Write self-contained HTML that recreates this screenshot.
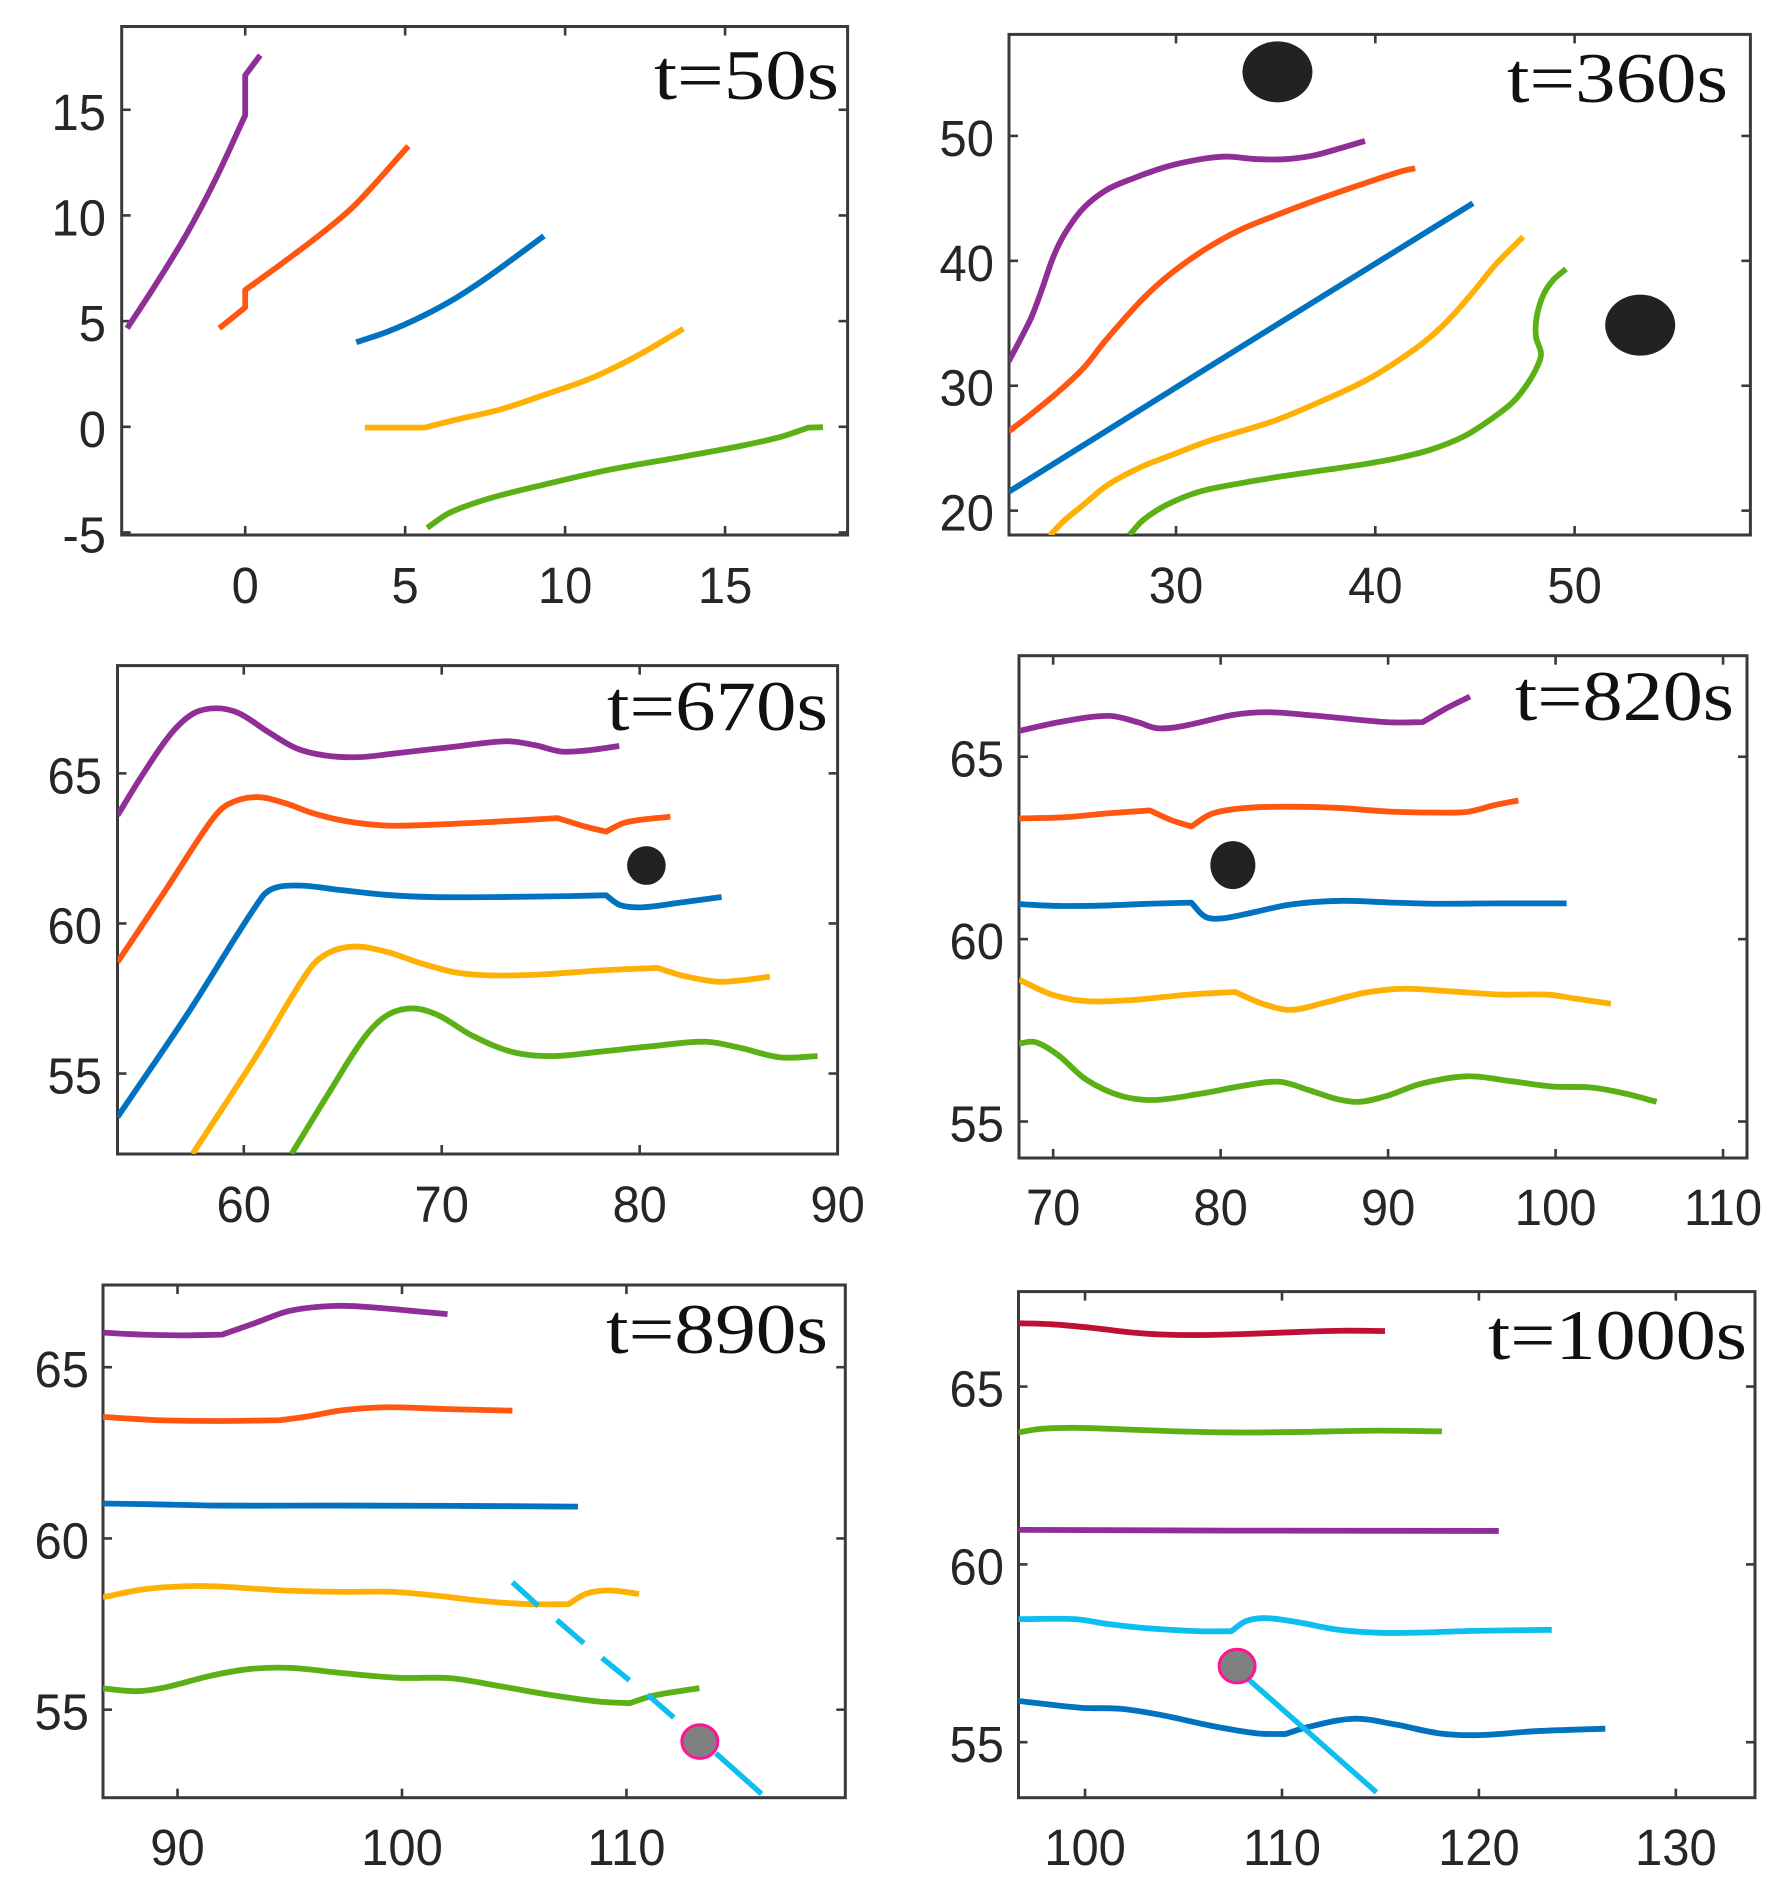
<!DOCTYPE html>
<html lang="en">
<head>
<meta charset="utf-8">
<title>Trajectories at six times</title>
<style>
html,body{margin:0;padding:0;background:#fff;}
svg{display:block;}
.tick-label{font-family:"Liberation Sans",sans-serif;font-size:51px;fill:#262626;}
.panel-title{font-family:"Liberation Serif",serif;font-size:71px;fill:#111;}
</style>
</head>
<body>
<svg id="chart" xmlns="http://www.w3.org/2000/svg" width="1785" height="1899" viewBox="0 0 1785 1899">
  <rect width="1785" height="1899" fill="#ffffff"/>
  <g id="p1"></g>
  <g id="p2"></g>
  <g id="p3"></g>
  <g id="p4"></g>
  <g id="p5"></g>
  <g id="p6"></g>
  <text class="panel-title" x="654" y="99" textLength="185" lengthAdjust="spacingAndGlyphs">t=50s</text>
  <text class="panel-title" x="1507" y="102" textLength="221" lengthAdjust="spacingAndGlyphs">t=360s</text>
  <text class="panel-title" x="607" y="730" textLength="221" lengthAdjust="spacingAndGlyphs">t=670s</text>
  <text class="panel-title" x="1515" y="720" textLength="219" lengthAdjust="spacingAndGlyphs">t=820s</text>
  <text class="panel-title" x="606" y="1353" textLength="222" lengthAdjust="spacingAndGlyphs">t=890s</text>
  <text class="panel-title" x="1488" y="1359" textLength="259" lengthAdjust="spacingAndGlyphs">t=1000s</text>
</svg>
<script>
// ---------- Panel t=50s ----------
const p1XTicks = [0, 5, 10, 15];
const p1YTicks = [-5, 0, 5, 10, 15];
const p1PurpleX = [-3.69, -2.81, -1.82, -0.94, 0, 0, 0.47];
const p1PurpleY = [4.66, 6.7, 9.15, 11.67, 14.74, 16.63, 17.58];
const p1OrangeX = [-0.81, 0, 0, 1.15, 2.39, 3.43, 5.1];
const p1OrangeY = [4.66, 5.65, 6.47, 7.73, 9.15, 10.49, 13.28];
const p1BlueX = [3.47, 4.45, 5.52, 6.58, 7.65, 9.34];
const p1BlueY = [4.0, 4.5, 5.22, 6.09, 7.16, 9.03];
const p1YellowX = [3.74, 5.6, 6.58, 8.0, 9.43, 10.85, 12.28, 13.7];
const p1YellowY = [-0.04, -0.04, 0.33, 0.83, 1.55, 2.32, 3.38, 4.64];
const p1GreenX = [5.69, 6.4, 7.65, 9.25, 11.39, 13.7, 15.48, 16.73, 17.6, 18.06];
const p1GreenY = [-4.78, -4.06, -3.38, -2.77, -2.03, -1.41, -0.91, -0.48, -0.04, -0.02];

// ---------- Panel t=360s ----------
const p2XTicks = [30, 40, 50];
const p2YTicks = [20, 30, 40, 50];
const p2PurpleX = [21.6, 22.26, 22.76, 23.26, 23.85, 24.43, 25.35, 26.52, 27.86, 29.53, 31.2, 32.54, 33.88, 35.39, 36.89, 38.23, 39.48];
const p2PurpleY = [31.93, 33.93, 35.54, 37.67, 40.34, 42.21, 44.21, 45.68, 46.61, 47.54, 48.13, 48.35, 48.16, 48.13, 48.43, 49.01, 49.6];
const p2OrangeX = [21.6, 22.68, 24.01, 25.35, 26.35, 27.36, 28.53, 29.87, 31.54, 33.21, 35.05, 37.06, 39.23, 41.24, 42.0];
const p2OrangeY = [26.33, 27.66, 29.4, 31.4, 33.4, 35.27, 37.27, 39.14, 41.0, 42.47, 43.67, 44.88, 46.08, 47.14, 47.42];
const p2BlueX = [21.6, 33.2, 44.9];
const p2BlueY = [21.5, 33.05, 44.61];
const p2YellowX = [23.66, 24.43, 25.35, 26.52, 28.19, 29.87, 31.54, 33.21, 35.05, 37.06, 39.4, 41.07, 42.58, 43.75, 44.92, 46.09, 47.42];
const p2YellowY = [18.0, 19.26, 20.46, 22.0, 23.45, 24.51, 25.53, 26.33, 27.26, 28.6, 30.32, 31.93, 33.66, 35.4, 37.53, 39.8, 41.93];
const p2GreenX = [27.66, 28.36, 29.53, 31.2, 33.21, 35.39, 37.73, 39.4, 41.07, 42.74, 44.41, 45.75, 46.92, 47.76, 48.26, 48.3, 48.06, 48.1, 48.43, 48.93, 49.57];
const p2GreenY = [18.05, 19.26, 20.46, 21.53, 22.19, 22.77, 23.31, 23.71, 24.19, 24.86, 25.92, 27.26, 28.72, 30.46, 32.06, 32.73, 33.93, 35.53, 37.27, 38.47, 39.35];
const p2ObstacleX = [35.09, 53.29];
const p2ObstacleY = [55.13, 34.85];

// ---------- Panel t=670s ----------
const p3XTicks = [60, 70, 80, 90];
const p3YTicks = [55, 60, 65];
const p3PurpleX = [53.62, 54.89, 56.32, 57.47, 58.62, 59.77, 61.21, 62.64, 64.08, 65.8, 67.82, 70.4, 73.28, 74.71, 76.0, 77.3, 78.97];
const p3PurpleY = [63.6, 64.96, 66.32, 67.0, 67.17, 67.0, 66.39, 65.84, 65.6, 65.54, 65.68, 65.87, 66.07, 65.94, 65.73, 65.76, 65.91];
const p3OrangeX = [53.62, 56.03, 58.33, 59.2, 60.63, 62.07, 63.51, 65.23, 67.24, 69.54, 72.99, 75.86, 77.3, 78.3, 79.31, 81.55];
const p3OrangeY = [58.71, 61.09, 63.4, 63.97, 64.21, 64.01, 63.67, 63.4, 63.26, 63.29, 63.4, 63.51, 63.22, 63.06, 63.37, 63.56];
const p3BlueX = [53.62, 57.18, 60.92, 61.64, 62.93, 64.94, 67.24, 69.54, 72.99, 76.44, 78.3, 79.02, 80.17, 81.9, 84.14];
const p3BlueY = [53.55, 57.01, 60.88, 61.2, 61.26, 61.11, 60.95, 60.88, 60.88, 60.91, 60.94, 60.61, 60.54, 60.68, 60.88];
const p3YellowX = [57.41, 60.63, 63.36, 64.37, 65.66, 67.24, 68.97, 70.69, 72.41, 75.0, 78.16, 80.89, 82.18, 83.91, 85.06, 86.58];
const p3YellowY = [52.32, 55.58, 58.51, 59.05, 59.23, 59.05, 58.67, 58.37, 58.27, 58.3, 58.44, 58.52, 58.26, 58.06, 58.1, 58.23];
const p3GreenX = [62.41, 64.37, 66.09, 67.24, 68.53, 69.83, 71.55, 73.56, 75.57, 77.87, 80.75, 83.33, 85.06, 87.07, 88.99];
const p3GreenY = [52.32, 54.43, 56.2, 56.94, 57.17, 56.94, 56.26, 55.72, 55.58, 55.72, 55.92, 56.06, 55.86, 55.54, 55.58];
const p3ObstacleX = [80.34];
const p3ObstacleY = [61.93];

// ---------- Panel t=820s ----------
const p4XTicks = [70, 80, 90, 100, 110];
const p4YTicks = [55, 60, 65];
const p4PurpleX = [67.96, 70.61, 73.33, 75.03, 76.21, 77.74, 80.8, 82.84, 85.55, 88.27, 90.31, 92.07, 93.53, 94.89];
const p4PurpleY = [65.71, 65.97, 66.12, 65.95, 65.78, 65.84, 66.15, 66.22, 66.13, 66.01, 65.94, 65.95, 66.34, 66.65];
const p4OrangeX = [67.96, 70.61, 73.33, 75.77, 77.06, 78.25, 79.44, 81.14, 83.51, 86.91, 89.97, 92.68, 94.72, 96.42, 97.78];
const p4OrangeY = [63.31, 63.34, 63.45, 63.53, 63.26, 63.09, 63.43, 63.58, 63.63, 63.6, 63.5, 63.47, 63.49, 63.68, 63.8];
const p4BlueX = [67.96, 70.27, 72.99, 75.7, 78.25, 79.1, 80.12, 81.82, 84.19, 87.25, 90.31, 93.02, 96.42, 100.66];
const p4BlueY = [60.96, 60.91, 60.92, 60.97, 61.0, 60.61, 60.57, 60.72, 60.95, 61.05, 61.0, 60.97, 60.98, 60.98];
const p4YellowX = [67.96, 69.93, 71.97, 74.69, 78.08, 80.87, 82.5, 84.19, 86.23, 88.61, 90.98, 93.7, 96.76, 99.47, 101.17, 103.31];
const p4YellowY = [58.89, 58.48, 58.3, 58.33, 58.48, 58.55, 58.23, 58.06, 58.26, 58.53, 58.64, 58.57, 58.48, 58.48, 58.37, 58.23];
const p4GreenX = [67.96, 68.91, 70.27, 71.97, 74.0, 76.04, 78.76, 81.48, 83.51, 85.21, 86.91, 88.27, 89.97, 92.0, 94.72, 97.44, 99.81, 102.19, 104.23, 106.03];
const p4GreenY = [57.14, 57.18, 56.83, 56.15, 55.71, 55.59, 55.76, 55.99, 56.09, 55.87, 55.62, 55.54, 55.71, 56.04, 56.24, 56.1, 55.96, 55.93, 55.76, 55.54];
const p4ObstacleX = [80.73];
const p4ObstacleY = [62.03];

// ---------- Panel t=890s ----------
const p5XTicks = [90, 100, 110];
const p5YTicks = [55, 60, 65];
const p5PurpleX = [86.68, 88.43, 90.2, 91.98, 93.5, 95.03, 97.06, 98.83, 100.36, 102.03];
const p5PurpleY = [66.01, 65.95, 65.93, 65.95, 66.3, 66.65, 66.79, 66.74, 66.65, 66.55];
const p5OrangeX = [86.68, 89.19, 91.73, 94.52, 95.79, 97.31, 99.34, 101.88, 104.92];
const p5OrangeY = [63.55, 63.45, 63.43, 63.45, 63.56, 63.74, 63.83, 63.78, 63.73];
const p5BlueX = [86.68, 88.68, 91.73, 97.31, 102.39, 107.84];
const p5BlueY = [61.02, 61.0, 60.96, 60.96, 60.95, 60.93];
const p5YellowX = [86.68, 88.43, 90.2, 91.73, 94.77, 97.31, 99.59, 101.37, 103.65, 105.69, 107.41, 108.22, 109.24, 110.56];
const p5YellowY = [58.28, 58.51, 58.6, 58.6, 58.48, 58.44, 58.44, 58.34, 58.17, 58.08, 58.08, 58.39, 58.48, 58.38];
const p5GreenX = [86.68, 88.17, 89.44, 91.47, 93.25, 95.03, 97.31, 99.85, 102.13, 104.42, 106.7, 108.73, 110.13, 111.27, 113.25];
const p5GreenY = [55.62, 55.54, 55.65, 55.99, 56.19, 56.22, 56.07, 55.93, 55.92, 55.68, 55.42, 55.24, 55.19, 55.42, 55.63];
const p5CyanStartX = [104.92, 106.9, 108.91, 110.94, 113.98];
const p5CyanStartY = [58.72, 57.62, 56.51, 55.44, 53.73];
const p5CyanEndX = [106.07, 108.1, 110.13, 112.11, 116.02];
const p5CyanEndY = [58.03, 56.94, 55.86, 54.77, 52.54];
const p5MarkerX = [113.27];
const p5MarkerY = [54.07];

// ---------- Panel t=1000s ----------
const p6XTicks = [100, 110, 120, 130];
const p6YTicks = [55, 60, 65];
const p6RedX = [96.62, 98.32, 100.35, 102.37, 104.1, 106.13, 108.73, 111.04, 113.06, 115.23];
const p6RedY = [66.78, 66.75, 66.65, 66.52, 66.46, 66.45, 66.49, 66.54, 66.57, 66.56];
const p6GreenX = [96.62, 97.75, 99.48, 101.79, 104.68, 107.57, 110.46, 114.8, 118.12];
const p6GreenY = [63.71, 63.81, 63.84, 63.8, 63.74, 63.71, 63.72, 63.76, 63.74];
const p6PurpleX = [96.62, 107.57, 121.01];
const p6PurpleY = [60.97, 60.95, 60.94];
const p6SkyX = [96.62, 99.48, 101.21, 103.24, 105.84, 107.43, 108.15, 109.16, 110.75, 112.77, 114.8, 116.82, 119.71, 123.7];
const p6SkyY = [58.46, 58.46, 58.32, 58.2, 58.12, 58.12, 58.4, 58.49, 58.38, 58.17, 58.08, 58.08, 58.13, 58.16];
const p6DeepBlueX = [96.62, 99.77, 101.79, 103.82, 106.42, 108.73, 110.17, 111.33, 113.64, 115.66, 117.98, 120.0, 122.89, 126.42];
const p6DeepBlueY = [56.16, 55.97, 55.94, 55.77, 55.46, 55.25, 55.23, 55.43, 55.66, 55.51, 55.25, 55.2, 55.31, 55.38];
const p6CyanStartX = [108.29];
const p6CyanStartY = [56.77];
const p6CyanEndX = [114.8];
const p6CyanEndY = [53.59];
const p6MarkerX = [107.72];
const p6MarkerY = [57.14];

const PURPLE = '#8E2E96', ORANGE = '#FF5712', BLUE = '#0072BF', YELLOW = '#FFB005',
      GREEN = '#5AB014', RED = '#BE1035', SKY = '#0DBEF0', CYAN = '#0DBEEE';

// The trailing list on a series names the point indexes that are sharp corners.
const panels = [
  { id: 'p1', box: [121.7, 26.5, 847.6, 535], xlim: [-3.86, 18.83], ylim: [-5.12, 18.94],
    xticks: p1XTicks, yticks: p1YTicks, xBase: 603, yRight: 106,
    series: [['purple', PURPLE, p1PurpleX, p1PurpleY, [4, 5]], ['orange', ORANGE, p1OrangeX, p1OrangeY, [1, 2]],
             ['blue', BLUE, p1BlueX, p1BlueY, []], ['yellow', YELLOW, p1YellowX, p1YellowY, [1]],
             ['green', GREEN, p1GreenX, p1GreenY, [8]]] },
  { id: 'p2', box: [1009, 34.4, 1750.4, 535], xlim: [21.62, 58.82], ylim: [18.05, 58.13],
    xticks: p2XTicks, yticks: p2YTicks, xBase: 603, yRight: 994,
    series: [['purple', PURPLE, p2PurpleX, p2PurpleY, []], ['orange', ORANGE, p2OrangeX, p2OrangeY, []],
             ['blue', BLUE, p2BlueX, p2BlueY, []], ['yellow', YELLOW, p2YellowX, p2YellowY, []],
             ['green', GREEN, p2GreenX, p2GreenY, []]],
    obstacles: [p2ObstacleX, p2ObstacleY], obstacleR: [35, 30.5] },
  { id: 'p3', box: [117.5, 665.6, 837.6, 1154], xlim: [53.62, 90], ylim: [52.32, 68.59],
    xticks: p3XTicks, yticks: p3YTicks, xBase: 1222, yRight: 102,
    series: [['purple', PURPLE, p3PurpleX, p3PurpleY, []], ['orange', ORANGE, p3OrangeX, p3OrangeY, [11, 13]],
             ['blue', BLUE, p3BlueX, p3BlueY, [10]], ['yellow', YELLOW, p3YellowX, p3YellowY, [11]],
             ['green', GREEN, p3GreenX, p3GreenY, []]],
    obstacles: [p3ObstacleX, p3ObstacleY], obstacleR: [19.3, 19.4] },
  { id: 'p4', box: [1019, 655.7, 1747, 1158], xlim: [67.96, 111.43], ylim: [54.0, 67.77],
    xticks: p4XTicks, yticks: p4YTicks, xBase: 1225, yRight: 1004,
    series: [['purple', PURPLE, p4PurpleX, p4PurpleY, [11]], ['orange', ORANGE, p4OrangeX, p4OrangeY, [3, 5]],
             ['blue', BLUE, p4BlueX, p4BlueY, [4]], ['yellow', YELLOW, p4YellowX, p4YellowY, [5]],
             ['green', GREEN, p4GreenX, p4GreenY, []]],
    obstacles: [p4ObstacleX, p4ObstacleY], obstacleR: [22.5, 24] },
  { id: 'p5', box: [103, 1285, 845.3, 1797.7], xlim: [86.68, 119.75], ylim: [52.43, 67.4],
    xticks: p5XTicks, yticks: p5YTicks, xBase: 1865, yRight: 89,
    series: [['purple', PURPLE, p5PurpleX, p5PurpleY, [3]], ['orange', ORANGE, p5OrangeX, p5OrangeY, [3]],
             ['blue', BLUE, p5BlueX, p5BlueY, []], ['yellow', YELLOW, p5YellowX, p5YellowY, [10]],
             ['green', GREEN, p5GreenX, p5GreenY, [12]]],
    cyan: [p5CyanStartX, p5CyanStartY, p5CyanEndX, p5CyanEndY],
    marker: [p5MarkerX, p5MarkerY] },
  { id: 'p6', box: [1018.5, 1291.6, 1755, 1797.7], xlim: [96.62, 134.02], ylim: [53.44, 67.67],
    xticks: p6XTicks, yticks: p6YTicks, xBase: 1865, yRight: 1004,
    series: [['red', RED, p6RedX, p6RedY, []], ['green', GREEN, p6GreenX, p6GreenY, []],
             ['purple', PURPLE, p6PurpleX, p6PurpleY, []], ['sky', SKY, p6SkyX, p6SkyY, [5]],
             ['deep-blue', BLUE, p6DeepBlueX, p6DeepBlueY, [6]]],
    cyan: [p6CyanStartX, p6CyanStartY, p6CyanEndX, p6CyanEndY],
    marker: [p6MarkerX, p6MarkerY] }
];

const NS = 'http://www.w3.org/2000/svg';
function make(tag, attrs, parent) {
  const el = document.createElementNS(NS, tag);
  for (const k in attrs) el.setAttribute(k, attrs[k]);
  parent.appendChild(el);
  return el;
}
function unit(dx, dy) {
  const n = Math.hypot(dx, dy) || 1;
  return [dx / n, dy / n];
}
// Smooth path whose handles scale with segment length, so short segments do not overshoot.
function curve(px, py, corners) {
  const isCorner = function (i) { return corners.indexOf(i) >= 0; };
  let d = 'M' + px[0].toFixed(2) + ' ' + py[0].toFixed(2);
  for (let i = 0; i < px.length - 1; i++) {
    const j = i + 1;
    const len = Math.hypot(px[j] - px[i], py[j] - py[i]);
    const t1 = (i === 0 || isCorner(i)) ? unit(px[j] - px[i], py[j] - py[i]) : unit(px[j] - px[i - 1], py[j] - py[i - 1]);
    const t2 = (j === px.length - 1 || isCorner(j)) ? unit(px[j] - px[i], py[j] - py[i]) : unit(px[j + 1] - px[i], py[j + 1] - py[i]);
    const c1x = px[i] + t1[0] * len / 3, c1y = py[i] + t1[1] * len / 3;
    const c2x = px[j] - t2[0] * len / 3, c2y = py[j] - t2[1] * len / 3;
    d += 'C' + c1x.toFixed(2) + ' ' + c1y.toFixed(2) + ' ' + c2x.toFixed(2) + ' ' + c2y.toFixed(2) + ' ' + px[j].toFixed(2) + ' ' + py[j].toFixed(2);
  }
  return d;
}

panels.forEach(function (p) {
  const g = document.getElementById(p.id);
  const L = p.box[0], T = p.box[1], R = p.box[2], B = p.box[3];
  const X = function (v) { return L + (v - p.xlim[0]) / (p.xlim[1] - p.xlim[0]) * (R - L); };
  const Y = function (v) { return B - (v - p.ylim[0]) / (p.ylim[1] - p.ylim[0]) * (B - T); };

  const clip = make('clipPath', { id: 'clip-' + p.id }, g);
  make('rect', { x: L, y: T, width: R - L, height: B - T }, clip);

  const frame = make('rect', { x: L, y: T, width: R - L, height: B - T, fill: 'none', stroke: '#3a3a3a', 'stroke-width': 3 }, g);
  
  

  p.xticks.forEach(function (v) {
    const x = X(v);
    make('line', { x1: x, x2: x, y1: T, y2: T + 9, stroke: '#3a3a3a', 'stroke-width': 2.6 }, g);
    make('line', { x1: x, x2: x, y1: B, y2: B - 9, stroke: '#3a3a3a', 'stroke-width': 2.6 }, g);
    const t = make('text', { transform: 'translate(' + x + ' ' + p.xBase + ') scale(0.96 1)', 'text-anchor': 'middle', class: 'tick-label' }, g);
    
    
    t.textContent = String(v);
  });
  p.yticks.forEach(function (v) {
    const y = Y(v);
    make('line', { x1: L, x2: L + 9, y1: y, y2: y, stroke: '#3a3a3a', 'stroke-width': 2.6 }, g);
    make('line', { x1: R, x2: R - 9, y1: y, y2: y, stroke: '#3a3a3a', 'stroke-width': 2.6 }, g);
    const t = make('text', { transform: 'translate(' + p.yRight + ' ' + (y + 20) + ') scale(0.96 1)', 'text-anchor': 'end', class: 'tick-label' }, g);
    
    
    t.textContent = String(v);
  });

  p.series.forEach(function (s) {
    const path = make('path', {
      d: curve(s[2].map(X), s[3].map(Y), s[4]), fill: 'none', stroke: s[1], 'stroke-width': 5.8,
      'stroke-linejoin': 'round', 'clip-path': 'url(#clip-' + p.id + ')'
    }, g);
    
    
  });

  if (p.obstacles) {
    p.obstacles[0].forEach(function (v, i) {
      const e = make('ellipse', { cx: X(v), cy: Y(p.obstacles[1][i]), rx: p.obstacleR[0], ry: p.obstacleR[1], fill: '#222' }, g);
      
      
    });
  }

  if (p.cyan) {
    p.cyan[0].forEach(function (v, i) {
      const l = make('line', {
        x1: X(v), y1: Y(p.cyan[1][i]), x2: X(p.cyan[2][i]), y2: Y(p.cyan[3][i]),
        stroke: CYAN, 'stroke-width': 5.4
      }, g);
      
      
    });
  }

  if (p.marker) {
    const m = make('ellipse', { cx: X(p.marker[0][0]), cy: Y(p.marker[1][0]), rx: 18, ry: 16.8, fill: '#808080', stroke: '#FF1493', 'stroke-width': 3 }, g);
    
    
  }
});
</script>
</body>
</html>
